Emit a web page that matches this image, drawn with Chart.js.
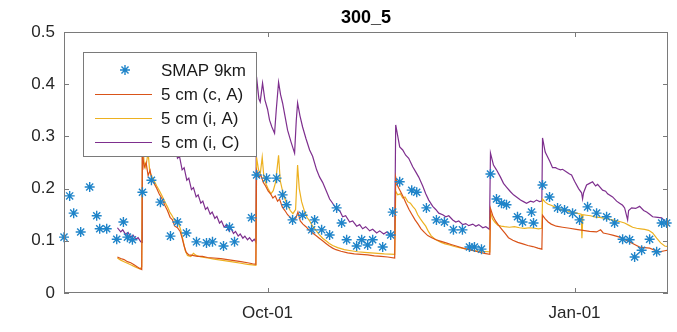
<!DOCTYPE html>
<html>
<head>
<meta charset="utf-8">
<script src="https://cdn.jsdelivr.net/npm/chart.js@4.4.0/dist/chart.umd.min.js"></script>
<style>
  html, body { margin: 0; padding: 0; background: #fff; }
</style>
</head>
<body>
<canvas id="chart" width="677" height="332"></canvas>
<script>
// x is days from Oct-01 (Jan-01 = day 92)
const xTickDays = [0, 92];
const xTickLabels = ["Oct-01", "Jan-01"];
const yTicks = [0, 0.1, 0.2, 0.3, 0.4, 0.5];
const seriesNames = ["SMAP 9km", "5 cm (c, A)", "5 cm (i, A)", "5 cm (i, C)"];

const smapDays = [-61, -59.3, -58.1, -56.0, -53.3, -51.2, -50.3, -48.2, -45.2, -43.2, -42.0, -40.5,
  -37.5, -34.8, -32.1, -29.1, -27.0, -24.3, -21.3, -18.3, -16.5, -13.2, -11.4, -9.9, -4.8, -3.3,
  -0.3, 2.7, 4.5, 5.7, 7.5, 10.5, 13.2, 14.1, 16.2, 18.6, 20.7, 22.2, 23.7, 26.7, 28.2, 30.0, 31.5,
  34.5, 36.9, 37.5, 39.6, 43.2, 44.7, 47.6, 50.6, 53.0, 55.7, 58.4, 60.5, 62.0, 64.1, 66.8, 68.6,
  70.1, 71.6, 74.9, 76.4, 79.1, 79.7, 82.4, 84.5, 86.9, 89.0, 91.4, 93.5, 95.9, 98.6, 101.6, 104.0,
  106.4, 108.5, 110.0, 112.1, 114.5, 116.6, 118.1, 119.6];
const smapVals = [0.107, 0.186, 0.153, 0.117, 0.203, 0.148, 0.123, 0.123, 0.103, 0.136, 0.107, 0.102,
  0.193, 0.216, 0.174, 0.109, 0.136, 0.115, 0.098, 0.096, 0.098, 0.090, 0.126, 0.098, 0.144, 0.226,
  0.220, 0.220, 0.188, 0.169, 0.140, 0.149, 0.121, 0.140, 0.121, 0.111, 0.163, 0.134, 0.102, 0.090,
  0.102, 0.092, 0.102, 0.088, 0.111, 0.155, 0.213, 0.197, 0.193, 0.163, 0.140, 0.136, 0.121, 0.121,
  0.088, 0.088, 0.084, 0.228, 0.180, 0.172, 0.169, 0.146, 0.136, 0.155, 0.134, 0.207, 0.184, 0.163,
  0.159, 0.153, 0.140, 0.165, 0.153, 0.146, 0.134, 0.103, 0.102, 0.069, 0.082, 0.103, 0.079, 0.134,
  0.134];

// [day, value]
const cA = [[-45,0.069],[-44,0.066],[-43,0.064],[-42,0.06],[-41,0.058],[-40,0.054],[-39,0.05],[-38.3,0.047],[-37.7,0.045],
  [-37.5,0.27],[-37,0.24],[-36.4,0.25],[-35.8,0.225],[-35.2,0.235],[-34.6,0.215],[-34,0.21],[-33.2,0.2],[-32.5,0.19],
  [-31.6,0.18],[-30.8,0.168],[-30,0.158],[-29.2,0.145],[-28.5,0.14],[-27.8,0.128],[-27,0.125],[-26.2,0.118],[-25.6,0.105],
  [-25,0.09],[-24.4,0.078],[-23.6,0.073],[-22.5,0.072],[-21,0.07],[-19.5,0.07],[-18,0.068],[-16,0.067],[-14,0.066],
  [-12,0.064],[-10,0.062],[-8,0.06],[-6,0.058],[-4.5,0.056],[-3.5,0.055],
  [-3.3,0.235],[-2.6,0.222],[-2,0.226],[-1.3,0.212],[-0.6,0.205],[0.2,0.195],[0.9,0.19],[1.6,0.182],[2.3,0.186],[3,0.176],
  [3.6,0.18],[4.4,0.165],[5.2,0.158],[6,0.15],[6.8,0.145],[7.6,0.14],[8.4,0.142],[9.1,0.155],[9.8,0.138],[10.6,0.132],
  [11.5,0.127],[12.5,0.12],[13.5,0.115],[14.5,0.11],[15.5,0.105],[16.5,0.1],[17.5,0.095],[18.5,0.09],[19.5,0.086],
  [20.5,0.083],[22,0.08],[24,0.077],[26,0.075],[28,0.074],[30,0.073],[32,0.071],[34,0.07],[36,0.069],[38.1,0.067],
  [38.4,0.222],[39,0.205],[39.8,0.195],[40.6,0.185],[41.5,0.172],[42.4,0.16],[43.3,0.15],[44.2,0.14],[45.1,0.132],
  [46,0.123],[47,0.116],[48,0.11],[49.2,0.106],[50.5,0.102],[52,0.099],[53.5,0.096],[55,0.093],[57,0.089],[59,0.085],
  [61,0.082],[63,0.079],[65,0.076],[66.6,0.074],
  [66.8,0.162],[67.5,0.148],[68.3,0.138],[69.2,0.13],[70.2,0.122],[71.2,0.114],[72.2,0.106],[73.5,0.101],[75,0.097],
  [76.5,0.094],[78,0.091],[79.5,0.089],[81,0.086],[82.2,0.084],
  [82.4,0.149],[83.2,0.142],[84.1,0.136],[85,0.132],[86.5,0.128],[88.4,0.126],[90.5,0.124],[92.5,0.122],[94.5,0.12],
  [96.5,0.118],[98.6,0.117],[99.8,0.121],[100.6,0.115],[102,0.113],[103.4,0.111],[105,0.108],[106.4,0.105],[107.5,0.101],
  [108.5,0.098],[110,0.093],[111.5,0.088],[113,0.087],[114.5,0.086],[116,0.082],[117.5,0.079],[119,0.081],[120,0.082]];

const iA = [[-45,0.067],[-44,0.063],[-43,0.06],[-42,0.057],[-41,0.054],[-40,0.051],[-39,0.048],[-38.2,0.046],[-37.7,0.05],
  [-37.5,0.3],[-37,0.25],[-36.5,0.24],[-35.8,0.27],[-35.3,0.232],[-34.6,0.222],[-34,0.215],[-33.2,0.205],[-32.4,0.196],
  [-31.6,0.186],[-30.8,0.175],[-30,0.165],[-29.3,0.155],[-28.6,0.148],[-27.9,0.14],[-27.2,0.136],[-26.5,0.13],[-25.9,0.118],
  [-25.3,0.1],[-24.7,0.082],[-24,0.072],[-23,0.07],[-22.2,0.076],[-21.4,0.072],[-20,0.069],[-18,0.067],[-16,0.065],
  [-14,0.063],[-12,0.061],[-10,0.059],[-8,0.057],[-6,0.055],[-4.5,0.054],[-3.5,0.053],
  [-3.3,0.26],[-2.7,0.236],[-2.2,0.228],[-1.6,0.26],[-1.1,0.222],[-0.4,0.208],[0.3,0.198],[1,0.19],[1.7,0.196],[2.4,0.212],
  [3.3,0.264],[3.8,0.215],[4.5,0.195],[5.2,0.18],[6,0.168],[6.8,0.158],[7.6,0.152],[8.4,0.16],[9,0.245],[9.5,0.2],
  [10.2,0.175],[11,0.158],[11.8,0.145],[12.6,0.138],[13.5,0.128],[14.5,0.12],[15.5,0.112],[16.5,0.105],[17.5,0.1],
  [18.5,0.095],[19.5,0.091],[21,0.087],[23,0.083],[25,0.081],[27,0.079],[29,0.078],[31,0.077],[33,0.076],[35,0.075],[38.1,0.074],
  [38.4,0.195],[39,0.188],[39.8,0.19],[40.5,0.182],[41.2,0.184],[42,0.175],[42.8,0.172],[43.5,0.166],[44.3,0.16],[45,0.15],
  [45.8,0.142],[46.6,0.135],[47.4,0.128],[48.2,0.118],[49,0.11],[50,0.104],[51,0.1],[52,0.097],[53.2,0.094],[54.5,0.092],
  [56,0.089],[57.5,0.087],[59,0.085],[60.5,0.083],[62,0.081],[64,0.08],[66.6,0.079],
  [66.8,0.155],[67.4,0.142],[68.2,0.135],[69,0.13],[70,0.128],[71,0.127],[72.5,0.126],[74,0.127],[75.5,0.125],[77,0.124],
  [78.5,0.125],[80,0.124],[81.2,0.123],[82.2,0.124],
  [82.4,0.18],[83.2,0.174],[84.1,0.17],[85,0.168],[86,0.165],[87.2,0.162],[88.4,0.159],[89.6,0.158],[90.8,0.155],[92,0.154],
  [93.2,0.152],[94,0.151],[94.2,0.105],[94.5,0.15],[95.6,0.149],[96.8,0.148],[98,0.146],[99.5,0.145],[101,0.143],[102.5,0.141],
  [104,0.139],[105.5,0.137],[107,0.134],[108.2,0.13],[109.4,0.126],[110.6,0.124],[111.8,0.123],[113,0.122],[114.2,0.12],
  [115.4,0.115],[116.6,0.105],[117.8,0.096],[119,0.09],[120,0.089]];

const iC = [[-45,0.125],[-44,0.117],[-43.4,0.121],[-42.5,0.112],[-41.8,0.116],[-41,0.107],[-40.3,0.111],[-39.5,0.103],
  [-38.8,0.106],[-38,0.098],[-37.6,0.097],
  [-37.5,0.44],[-36.8,0.42],[-36.2,0.426],[-35.4,0.398],[-34.8,0.404],[-34,0.376],[-33.4,0.381],[-32.6,0.352],[-32,0.357],
  [-31.2,0.33],[-30.6,0.335],[-29.8,0.308],[-29.2,0.313],[-28.4,0.285],[-27.8,0.29],[-27,0.258],[-26.4,0.262],[-25.6,0.236],
  [-25,0.24],[-24.2,0.216],[-23.6,0.22],[-22.8,0.198],[-22.2,0.202],[-21.4,0.184],[-20.8,0.188],[-20,0.172],[-19.4,0.176],
  [-18.6,0.16],[-18,0.164],[-17.2,0.151],[-16.6,0.155],[-15.8,0.143],[-15.2,0.147],[-14.4,0.134],[-13.8,0.138],[-13,0.126],
  [-12.4,0.13],[-11.6,0.12],[-11,0.124],[-10.2,0.114],[-9.6,0.118],[-8.8,0.109],[-8.2,0.113],[-7.4,0.105],[-6.8,0.109],
  [-6,0.102],[-5.4,0.106],[-4.6,0.099],[-4,0.103],[-3.5,0.098],
  [-3.3,0.414],[-2.6,0.372],[-2.2,0.366],[-1.5,0.402],[-0.8,0.37],[0,0.352],[0.6,0.331],[1.3,0.318],[2.1,0.306],[2.6,0.35],
  [3.3,0.404],[3.9,0.38],[4.5,0.364],[5.2,0.34],[6,0.312],[7,0.29],[8.1,0.268],[8.6,0.33],[9,0.364],[9.7,0.34],[10.5,0.318],
  [11.5,0.296],[12.6,0.274],[13.5,0.262],[14.7,0.236],[15.6,0.222],[16.5,0.212],[17.7,0.194],[18.6,0.18],[19.5,0.172],
  [20.7,0.16],[21.6,0.158],[22.5,0.146],[23.4,0.148],[24.6,0.136],[25.5,0.138],[26.7,0.128],[27.6,0.131],[28.5,0.123],
  [29.4,0.127],[30.6,0.119],[31.5,0.122],[32.7,0.115],[33.6,0.119],[34.8,0.113],[35.7,0.117],[36.9,0.11],[38.1,0.111],
  [38.4,0.322],[39.6,0.28],[40.5,0.274],[41.4,0.264],[42.3,0.258],[43.5,0.242],[44.4,0.232],[45.3,0.222],[46.5,0.205],
  [47.4,0.19],[48.3,0.178],[49.5,0.166],[50.4,0.16],[51.3,0.153],[52.5,0.15],[53.4,0.146],[54.3,0.148],[55.5,0.14],
  [56.4,0.136],[57.3,0.138],[58.5,0.131],[59.4,0.133],[60.3,0.129],[61.5,0.132],[62.4,0.128],[63.3,0.131],[64.5,0.125],
  [65.4,0.127],[66.5,0.122],
  [66.8,0.268],[67.7,0.245],[68.6,0.236],[69.8,0.222],[70.7,0.21],[71.6,0.203],[72.8,0.194],[73.7,0.188],[74.6,0.184],
  [75.8,0.178],[76.7,0.175],[77.6,0.172],[78.8,0.176],[79.7,0.174],[80.6,0.178],[81.5,0.175],[82.2,0.176],
  [82.4,0.297],[83.2,0.27],[83.9,0.261],[84.6,0.252],[85.4,0.24],[86.3,0.24],[86.9,0.238],[87.8,0.236],[88.4,0.237],
  [89.6,0.232],[90.5,0.228],[91.1,0.226],[92,0.214],[93.2,0.2],[94.1,0.192],[94.4,0.18],[94.7,0.192],[95.6,0.207],
  [96.5,0.21],[97.4,0.213],[98.3,0.205],[98.9,0.208],[100.4,0.197],[101.3,0.195],[101.9,0.19],[103.4,0.184],[104.6,0.176],
  [105.5,0.172],[106.4,0.168],[107,0.163],[107.9,0.14],[108.2,0.158],[109.1,0.163],[110.3,0.162],[111.5,0.166],[112.7,0.158],
  [113.6,0.155],[114.5,0.151],[115.4,0.146],[116.9,0.145],[118.1,0.144],[119,0.138],[120,0.136]];

const colors = ["#1f84c9", "#D95319", "#EDB120", "#7E2F8E"];
const FONT = "'Liberation Sans', Arial, Helvetica, sans-serif";

function toXY(pairs) {
  return pairs.map(p => ({ x: p[0], y: p[1] }));
}

function drawStar(ctx, x, y, r) {
  const d = r * Math.SQRT1_2;
  ctx.beginPath();
  ctx.moveTo(x - r, y); ctx.lineTo(x + r, y);
  ctx.moveTo(x, y - r); ctx.lineTo(x, y + r);
  ctx.moveTo(x - d, y - d); ctx.lineTo(x + d, y + d);
  ctx.moveTo(x - d, y + d); ctx.lineTo(x + d, y - d);
  ctx.stroke();
}

// box, inward ticks, legend and title in matlab style
const matlabBits = {
  id: "matlabBits",
  afterDatasetsDraw(chart) {
    const { ctx, chartArea: a, scales } = chart;
    const x = scales.x, y = scales.y;
    ctx.save();
    ctx.strokeStyle = "#7a7a7a";
    ctx.lineWidth = 1;
    ctx.strokeRect(a.left + 0.5, a.top + 0.5, a.right - a.left - 1, a.bottom - a.top - 1);
    ctx.beginPath();
    yTicks.forEach(v => {
      const py = Math.round(y.getPixelForValue(v)) + 0.5;
      ctx.moveTo(a.left, py); ctx.lineTo(a.left + 5, py);
      ctx.moveTo(a.right, py); ctx.lineTo(a.right - 5, py);
    });
    xTickDays.forEach(v => {
      const px = Math.round(x.getPixelForValue(v)) + 0.5;
      ctx.moveTo(px, a.bottom); ctx.lineTo(px, a.bottom - 5);
      ctx.moveTo(px, a.top); ctx.lineTo(px, a.top + 5);
    });
    ctx.stroke();

    // legend
    const lx = a.left + 19, ly = a.top + 20, lw = 174, lh = 105;
    ctx.fillStyle = "#fff";
    ctx.fillRect(lx, ly, lw, lh);
    ctx.strokeStyle = "#7a7a7a";
    ctx.strokeRect(lx + 0.5, ly + 0.5, lw - 1, lh - 1);
    ctx.font = "17px " + FONT;
    ctx.textBaseline = "middle";
    ctx.textAlign = "left";
    chart.data.datasets.forEach((ds, i) => {
      const cy = ly + 18 + i * 24;
      ctx.strokeStyle = ds.borderColor;
      ctx.lineWidth = i === 0 ? 1.4 : 1.2;
      if (i === 0) {
        drawStar(ctx, lx + 42, cy, 5);
      } else {
        ctx.beginPath();
        ctx.moveTo(lx + 12, cy + 0.5); ctx.lineTo(lx + 69, cy + 0.5);
        ctx.stroke();
      }
      ctx.fillStyle = "#1a1a1a";
      ctx.fillText(ds.label, lx + 78, cy + 1);
    });

    // title
    ctx.font = "bold 18px " + FONT;
    ctx.textAlign = "center";
    ctx.fillStyle = "#000";
    ctx.fillText("300_5", (a.left + a.right) / 2, 18);
    ctx.restore();
  }
};

new Chart(document.getElementById("chart"), {
  type: "scatter",
  data: {
    datasets: [
      {
        label: seriesNames[0],
        data: smapDays.map((d, i) => ({ x: d, y: smapVals[i] })),
        borderColor: colors[0],
        backgroundColor: colors[0],
        pointStyle: "star",
        pointRadius: 5,
        borderWidth: 1.4,
        showLine: false,
        clip: false
      },
      {
        label: seriesNames[1], data: toXY(cA), type: "line", showLine: true,
        borderColor: colors[1], borderWidth: 1.2, pointRadius: 0, tension: 0, fill: false
      },
      {
        label: seriesNames[2], data: toXY(iA), type: "line", showLine: true,
        borderColor: colors[2], borderWidth: 1.2, pointRadius: 0, tension: 0, fill: false
      },
      {
        label: seriesNames[3], data: toXY(iC), type: "line", showLine: true,
        borderColor: colors[3], borderWidth: 1.2, pointRadius: 0, tension: 0, fill: false
      }
    ]
  },
  options: {
    responsive: false,
    animation: false,
    devicePixelRatio: 1,
    layout: { padding: { top: 32, right: 9, left: 0, bottom: 0 } },
    plugins: { legend: { display: false }, tooltip: { enabled: false }, title: { display: false } },
    scales: {
      x: {
        type: "linear",
        min: -61,
        max: 120,
        grid: { display: false, drawTicks: false },
        border: { display: false },
        afterBuildTicks: s => { s.ticks = xTickDays.map(v => ({ value: v })); },
        afterFit: s => { s.height = 39; },
        ticks: {
          autoSkip: false,
          maxRotation: 0,
          padding: 10,
          color: "#262626",
          font: { family: FONT, size: 17 },
          callback: v => xTickLabels[xTickDays.indexOf(v)]
        }
      },
      y: {
        min: 0,
        max: 0.5,
        grid: { display: false, drawTicks: false },
        border: { display: false },
        afterBuildTicks: s => { s.ticks = yTicks.map(v => ({ value: v })); },
        afterFit: s => { s.width = 64; },
        ticks: {
          padding: 9,
          color: "#262626",
          font: { family: FONT, size: 17 },
          callback: v => String(v)
        }
      }
    }
  },
  plugins: [matlabBits]
});
</script>
</body>
</html>
